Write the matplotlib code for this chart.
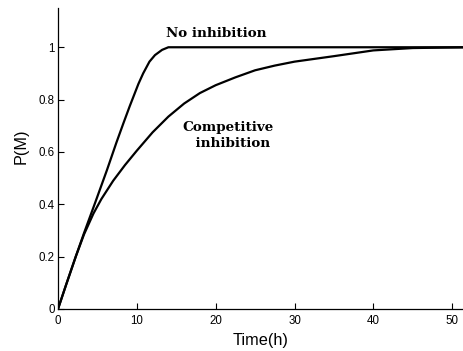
import matplotlib
matplotlib.use('Agg')
import matplotlib.pyplot as plt

# values
t_none = [0, 1, 2.25, 3.3, 4.7, 6.2, 7.4, 8.3, 9.1, 10.2, 10.8, 11.6, 12.3, 13.2, 14.0, 52]
p_none = [0, 0.09, 0.2, 0.29, 0.405, 0.53, 0.635, 0.71, 0.775, 0.86, 0.9, 0.945, 0.97, 0.99, 1.0, 1.0]

t_comp = [0, 1, 2.25, 3.3, 4.5, 5.5, 7, 8.5, 10, 12, 14, 16, 18, 20, 22.5, 25, 27.5, 30, 35, 40, 45, 52]
p_comp = [0, 0.09, 0.2, 0.285, 0.365, 0.42, 0.49, 0.55, 0.605, 0.675, 0.735, 0.785, 0.825, 0.855, 0.885, 0.912, 0.93, 0.945, 0.966, 0.988, 0.997, 1.0]

xticks = [0, 10, 20, 30, 40, 50]
yticks = [0, 0.2, 0.4, 0.6, 0.8, 1]
ytick_labels = ['0', '0.2', '0.4', '0.6', '0.8', '1']

fig = plt.figure(figsize=(4.64, 3.51), dpi=100)
ax = fig.add_axes([0.125, 0.1197, 0.875, 0.8575])

ax.plot(t_none, p_none, color='black', lw=1.6)
ax.plot(t_comp, p_comp, color='black', lw=1.6)

ax.set_xlim(0, 51.5)
ax.set_ylim(0, 1.15)
ax.set_xticks(xticks)
ax.set_yticks(yticks)
ax.set_xticklabels([str(v) for v in xticks])
ax.set_yticklabels(ytick_labels)
ax.tick_params(direction='in', length=4, width=0.8, labelsize=8.3)
ax.tick_params(axis='x', pad=4.5)
ax.tick_params(axis='y', pad=2.5)
for lab in ax.get_xticklabels() + ax.get_yticklabels():
    lab.set_family('Liberation Sans')

ax.spines['top'].set_visible(False)
ax.spines['right'].set_visible(False)
ax.spines['left'].set_linewidth(0.9)
ax.spines['bottom'].set_linewidth(0.9)

ax.set_xlabel('Time(h)', family='Liberation Sans', fontsize=11.7, labelpad=4)
ax.set_ylabel('P(M)', family='Liberation Sans', fontsize=11.7)
ax.yaxis.set_label_coords(-0.073, 0.54)

ax.text(13.7, 1.053, 'No inhibition', family='DejaVu Serif', fontweight='bold',
        fontsize=9.7, ha='left', va='center')
ax.text(21.6, 0.662, 'Competitive\n  inhibition', family='DejaVu Serif', fontweight='bold',
        fontsize=9.7, ha='center', va='center', linespacing=1.35)

fig.savefig('out.png', dpi=100)
